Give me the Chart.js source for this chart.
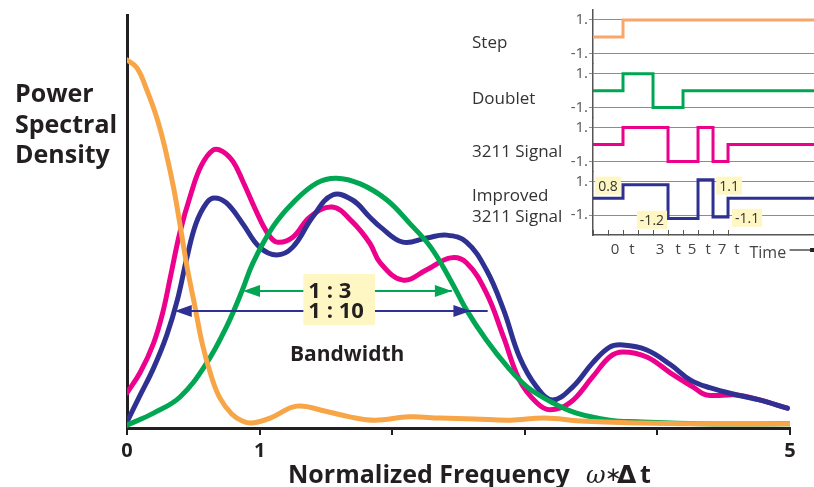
<!DOCTYPE html>
<html>
<head>
<meta charset="utf-8">
<script src="https://cdn.jsdelivr.net/npm/chart.js@4.4.1/dist/chart.umd.min.js"></script>
<style>
  html, body { margin: 0; padding: 0; background: #fff; }
  #wrap { position: relative; width: 814px; height: 487px; overflow: hidden; }
  #psd { position: absolute; left: 0; top: 0; }
  #inset { position: absolute; left: 460px; top: 0; }
</style>
</head>
<body>
<div id="wrap">
  <canvas id="psd" width="814" height="487"></canvas>
  <canvas id="inset" width="354" height="262"></canvas>
</div>
<script>
// === Power spectral density curves (x = normalized frequency ω*Δt, y = relative PSD) ===

const stepFreq = [0, 0.075, 0.15, 0.23, 0.29, 0.35, 0.40, 0.45, 0.51, 0.57, 0.64, 0.70, 0.79, 0.87, 0.94, 1.08, 1.28, 1.49, 1.68, 1.87, 2.13, 2.36, 2.62, 2.89, 3.15, 3.42, 3.87, 4.32, 5.0];
const stepPsd = [89.1, 87.2, 81.8, 74.6, 67.3, 58.4, 49.2, 39.5, 29.8, 20.1, 12.1, 7.3, 3.4, 1.7, 1.2, 2.4, 5.3, 4.1, 2.7, 1.9, 2.7, 2.4, 2.2, 1.9, 2.4, 1.7, 1.2, 1.0, 1.0];

const s3211Freq = [0, 0.10, 0.20, 0.27, 0.33, 0.40, 0.48, 0.56, 0.65, 0.72, 0.80, 0.87, 0.98, 1.06, 1.13, 1.25, 1.38, 1.55, 1.70, 1.83, 1.91, 2.08, 2.26, 2.44, 2.56, 2.71, 2.84, 2.96, 3.09, 3.19, 3.34, 3.51, 3.64, 3.74, 3.92, 4.10, 4.27, 4.37, 4.60, 4.77, 4.98];
const s3211Psd = [8.5, 13.5, 20.5, 28.0, 37.0, 47.5, 56.5, 63.5, 67.3, 67.0, 64.5, 60.0, 52.1, 47.2, 45.0, 46.2, 51.1, 53.5, 49.9, 44.8, 40.0, 35.8, 38.3, 41.2, 40.0, 32.7, 22.0, 11.6, 6.1, 4.4, 6.1, 12.3, 17.2, 18.4, 17.2, 13.3, 9.9, 8.0, 8.0, 6.8, 4.8];

const improvedFreq = [0, 0.10, 0.20, 0.30, 0.38, 0.45, 0.52, 0.60, 0.66, 0.75, 0.87, 1.00, 1.13, 1.25, 1.40, 1.55, 1.70, 1.83, 1.91, 2.08, 2.26, 2.41, 2.56, 2.71, 2.84, 2.96, 3.09, 3.21, 3.36, 3.51, 3.64, 3.74, 3.92, 4.10, 4.25, 4.40, 4.60, 4.77, 4.98];
const improvedPsd = [1.5, 8.0, 14.5, 22.5, 31.0, 41.0, 49.5, 54.5, 55.7, 54.5, 49.6, 43.8, 41.9, 43.8, 51.1, 56.4, 55.2, 51.1, 48.7, 45.0, 46.0, 46.7, 45.0, 38.3, 28.6, 17.2, 9.9, 6.8, 9.9, 15.7, 19.6, 20.1, 18.9, 15.3, 11.6, 9.7, 8.0, 6.8, 4.8];

const doubletFreq = [0, 0.20, 0.40, 0.60, 0.75, 0.87, 0.95, 1.10, 1.25, 1.43, 1.58, 1.76, 1.96, 2.13, 2.29, 2.44, 2.56, 2.71, 2.87, 3.02, 3.21, 3.39, 3.64, 3.85, 4.32, 5.0];
const doubletPsd = [0.7, 3.6, 7.5, 15.7, 24.5, 33.4, 40.0, 48.7, 54.5, 59.3, 60.5, 59.1, 55.2, 49.6, 43.8, 35.8, 28.6, 21.3, 14.8, 9.9, 6.1, 3.6, 1.9, 1.5, 1.0, 1.0];

const freqTicks = [0, 1, 2, 3, 4, 5];
const freqTickLabels = ['0', '1', '', '', '', '5'];

// === Input signals (inset), each value holds from its time on ===
const stepTimes = [-2, 0, 12.73];
const stepValues = [0, 1, 1];
const doubletTimes = [-2, 0, 2, 4, 12.73];
const doubletValues = [0, 1, -1, 0, 0];
const s3211Times = [-2, 0, 3, 5, 6, 7, 12.73];
const s3211Values = [0, 1, -1, 1, -1, 0, 0];
const improvedTimes = [-2, 0, 3, 5, 6, 7, 12.73];
const improvedValues = [0, 0.8, -1.2, 1.1, -1.1, 0, 0];

const timeTicks = [-2, -1, 0, 1, 2, 3, 4, 5, 6, 7];
const timeLabelAt = [-0.53, 0.6, 2.47, 3.67, 4.6, 5.67, 6.6, 7.6];
const timeLabels = ['0', 't', '3', 't', '5', 't', '7', 't'];

const ORANGE = '#F8A548', MAGENTA = '#EC008C', NAVY = '#2E3192', GREEN = '#00A651';
const INK = '#231F20', PALE = '#FEF7C3';
const FONT = '"Open Sans", "Noto Sans", sans-serif';

const xy = (xs, ys) => xs.map((x, i) => ({ x: x, y: ys[i] }));

function curve(label, xs, ys, color) {
  return {
    label: label,
    data: xy(xs, ys),
    borderColor: color,
    borderWidth: 5,
    pointRadius: 0,
    fill: false,
    tension: 0.4,
    borderCapStyle: 'round'
  };
}

function arrowHead(ctx, x, y, dir) {
  ctx.beginPath();
  ctx.moveTo(x, y);
  ctx.lineTo(x + dir * 17, y - 6);
  ctx.lineTo(x + dir * 17, y + 6);
  ctx.closePath();
  ctx.fill();
}

// annotations of the main chart (data units)
const bandArrows = [
  { from: 0.875, to: 2.45, end: 2.45, level: 33.2, color: GREEN },
  { from: 0.36, to: 2.59, end: 2.72, level: 28.3, color: NAVY }
];
const ratioBox = { x0: 1.33, x1: 1.87, y0: 37.3, y1: 24.9 };
const ratioText = [{ text: '1 : 3', level: 32.9 }, { text: '1 : 10', level: 28.1 }];

const psdDecor = {
  id: 'psdDecor',
  afterDatasetsDraw(chart) {
    const { ctx, scales: { x, y } } = chart;
    ctx.save();
    // bandwidth arrows
    bandArrows.forEach(a => {
      const py = y.getPixelForValue(a.level);
      const x1 = x.getPixelForValue(a.from), x2 = x.getPixelForValue(a.to);
      ctx.strokeStyle = a.color;
      ctx.fillStyle = a.color;
      ctx.lineWidth = 2;
      ctx.beginPath();
      ctx.moveTo(x1 + 10, py);
      ctx.lineTo(x.getPixelForValue(a.end), py);
      ctx.stroke();
      arrowHead(ctx, x1, py, 1);
      arrowHead(ctx, x2, py, -1);
    });
    // ratio box
    const bx = x.getPixelForValue(ratioBox.x0), by = y.getPixelForValue(ratioBox.y0);
    ctx.fillStyle = PALE;
    ctx.fillRect(bx, by, x.getPixelForValue(ratioBox.x1) - bx, y.getPixelForValue(ratioBox.y1) - by);
    ctx.fillStyle = INK;
    ctx.font = 'bold 22px ' + FONT;
    ctx.textAlign = 'left';
    ctx.textBaseline = 'middle';
    ratioText.forEach(t => ctx.fillText(t.text, bx + 5, y.getPixelForValue(t.level)));
    ctx.textAlign = 'center';
    ctx.font = 'bold 21px ' + FONT;
    ctx.fillText('Bandwidth', x.getPixelForValue(1.66), y.getPixelForValue(17.7));

    // axis titles
    ctx.textAlign = 'left';
    ctx.textBaseline = 'alphabetic';
    ctx.font = 'bold 25px ' + FONT;
    ['Power', 'Spectral', 'Density'].forEach((s, i) => ctx.fillText(s, 15, 102 + i * 30.5));
    ctx.fillText('Normalized Frequency', 288, 483);
    ctx.font = 'italic 24px "DejaVu Serif", serif';
    ctx.fillText('ω', 586, 483);
    ctx.font = '20px "DejaVu Sans", sans-serif';
    ctx.fillText('∗', 605, 481);
    ctx.font = 'bold 25px "DejaVu Sans", sans-serif';
    ctx.fillText('Δ', 617, 483);
    ctx.font = 'bold 25px ' + FONT;
    ctx.fillText('t', 640, 483);
    ctx.restore();
  }
};

new Chart(document.getElementById('psd'), {
  type: 'line',
  data: {
    datasets: [
      curve('Step', stepFreq, stepPsd, ORANGE),
      curve('Doublet', doubletFreq, doubletPsd, GREEN),
      curve('Improved 3211', improvedFreq, improvedPsd, NAVY),
      curve('3211', s3211Freq, s3211Psd, MAGENTA)
    ]
  },
  options: {
    responsive: false,
    animation: false,
    layout: { padding: { left: 127, top: 15, right: 24, bottom: 0 } },
    plugins: { legend: { display: false }, tooltip: { enabled: false } },
    scales: {
      x: {
        type: 'linear', min: 0, max: 5,
        afterBuildTicks: s => { s.ticks = freqTicks.map(v => ({ value: v })); },
        afterFit: s => { s.height = 59; },
        ticks: {
          callback: (v, i) => freqTickLabels[i],
          font: { family: FONT, size: 20, weight: 'bold' },
          color: INK, padding: 4, maxRotation: 0, autoSkip: false
        },
        grid: { drawOnChartArea: false, tickLength: 7, color: INK, lineWidth: 2 },
        border: { color: INK, width: 3 }
      },
      y: {
        min: 0, max: 100,
        afterFit: s => { s.width = 0; },
        ticks: { display: false },
        grid: { display: false },
        border: { color: INK, width: 3 }
      }
    }
  },
  plugins: [psdDecor]
});

// === inset: input signals ===
const panelNames = [['Step'], ['Doublet'], ['3211 Signal'], ['Improved', '3211 Signal']];
const panelLabelShift = [[6], [8], [8], [-2, 19]];
const valueTags = [
  { t: -1.0, v: 0.75, text: '0.8' },
  { t: 7.07, v: 0.75, text: '1.1' },
  { t: 1.93, v: -1.27, text: '-1.2' },
  { t: 8.27, v: -1.15, text: '-1.1' }
];
const panelIds = ['yStep', 'yDoublet', 'y3211', 'yImproved'];

function signalAxis(order, min, weight, zeroColor) {
  return {
    type: 'linear', position: 'left', stack: 'signals', stackWeight: weight, weight: order,
    min: min, max: 1.59,
    afterBuildTicks: s => { s.ticks = [{ value: -1 }, { value: 0 }, { value: 1 }]; },
    afterFit: s => { s.width = 133; },
    ticks: {
      callback: v => (v === 1 ? '1.' : v === -1 ? '-1.' : ''),
      font: { family: FONT, size: 15 }, color: '#555', padding: 1
    },
    grid: { color: c => (c.tick && c.tick.value === 0 ? zeroColor : '#8c8c8c'), lineWidth: 1, tickLength: 4 },
    border: { color: '#555', width: 1.5 }
  };
}

function signal(times, values, color, axis) {
  return {
    data: xy(times, values), yAxisID: axis, borderColor: color, borderWidth: 3,
    pointRadius: 0, stepped: 'before', fill: false, borderJoinStyle: 'miter'
  };
}

const insetDecor = {
  id: 'insetDecor',
  afterDatasetsDraw(chart) {
    const { ctx, scales } = chart;
    const x = scales.x;
    ctx.save();
    ctx.fillStyle = '#333';
    ctx.font = '17px ' + FONT;
    ctx.textAlign = 'left';
    ctx.textBaseline = 'middle';
    panelIds.forEach((id, k) => {
      const zero = scales[id].getPixelForValue(0);
      panelNames[k].forEach((line, j) => ctx.fillText(line, 12, zero + panelLabelShift[k][j]));
    });
    // value tags on the improved signal
    const yi = scales.yImproved;
    ctx.font = '14px ' + FONT;
    ctx.textAlign = 'center';
    valueTags.forEach(tag => {
      const cx = x.getPixelForValue(tag.t), cy = yi.getPixelForValue(tag.v);
      const w = ctx.measureText(tag.text).width + 6;
      ctx.fillStyle = PALE;
      ctx.fillRect(cx - w / 2, cy - 9, w, 18);
      ctx.fillStyle = '#333';
      ctx.fillText(tag.text, cx, cy + 1);
    });
    // time axis labels
    const ty = x.top + 15;
    ctx.font = '15px ' + FONT;
    ctx.fillStyle = '#444';
    timeLabelAt.forEach((t, i) => ctx.fillText(timeLabels[i], x.getPixelForValue(t), ty));
    ctx.font = '16px ' + FONT;
    ctx.fillText('Time', x.getPixelForValue(9.65), ty + 3);
    ctx.strokeStyle = '#222';
    ctx.lineWidth = 1.2;
    const a0 = x.getPixelForValue(11.1), a1 = x.getPixelForValue(12.6);
    ctx.beginPath();
    ctx.moveTo(a0, ty);
    ctx.lineTo(a1, ty);
    ctx.stroke();
    ctx.fillStyle = '#222';
    ctx.fillRect(a1 - 2, ty - 2, 4, 4);
    ctx.restore();
  }
};

new Chart(document.getElementById('inset'), {
  type: 'line',
  data: {
    datasets: [
      signal(stepTimes, stepValues, '#F9A66C', 'yStep'),
      signal(doubletTimes, doubletValues, GREEN, 'yDoublet'),
      signal(s3211Times, s3211Values, MAGENTA, 'y3211'),
      signal(improvedTimes, improvedValues, NAVY, 'yImproved')
    ]
  },
  options: {
    responsive: false,
    animation: false,
    layout: { padding: { left: 0, top: 5, right: 0, bottom: 0 } },
    plugins: { legend: { display: false }, tooltip: { enabled: false } },
    scales: {
      x: {
        type: 'linear', min: -2, max: 12.73,
        afterBuildTicks: s => { s.ticks = timeTicks.map(v => ({ value: v })); },
        afterFit: s => { s.height = 27; },
        ticks: { display: false },
        grid: { drawOnChartArea: false, tickLength: -5, color: '#555', lineWidth: 1 },
        border: { color: '#555', width: 1.5 }
      },
      yStep: signalAxis(4, -1.59, 3.18, '#222'),
      yDoublet: signalAxis(3, -1.59, 3.18, '#222'),
      y3211: signalAxis(2, -1.59, 3.18, '#888'),
      yImproved: signalAxis(1, -2.17, 3.76, '#888')
    }
  },
  plugins: [insetDecor]
});
</script>
</body>
</html>
